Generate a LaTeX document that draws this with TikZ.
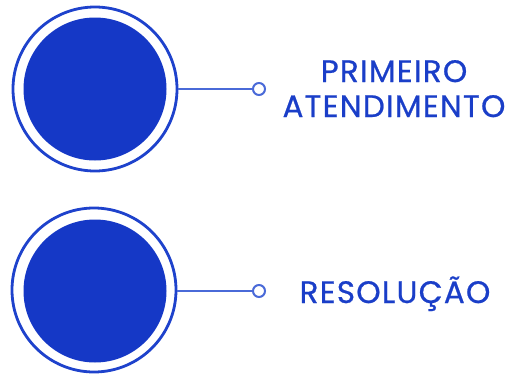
\documentclass[tikz,border=0pt]{standalone}
\usepackage{fontspec}
\setmainfont{Poppins}[FakeBold=0.7, LetterSpace=4]
\definecolor{mainblue}{HTML}{1538C6}
\definecolor{ringblue}{HTML}{1E42CC}
\definecolor{lineblue}{HTML}{4A6AD8}
\definecolor{textblue}{HTML}{1A3EC8}
\tikzset{
  ring/.style={circle, draw=ringblue, line width=2.8pt, fill=white, minimum size=164pt, inner sep=0pt},
  disk/.style={circle, fill=mainblue, minimum size=143pt, inner sep=0pt},
  endpt/.style={circle, draw=lineblue, line width=2pt, fill=white, minimum size=12pt, inner sep=0pt},
  conn/.style={draw=lineblue, line width=1.6pt},
  label/.style={text=textblue, font=\fontsize{31}{35}\selectfont, align=center, inner sep=0pt}
}
\begin{document}
\begin{tikzpicture}[x=1pt,y=-1pt]
\useasboundingbox (0,0) rectangle (512,375);
\node[ring] (r1) at (95,89) {};
\node[disk] (d1) at (95,89) {};
\node[endpt] (e1) at (259,89) {};
\draw[conn] (r1.east) -- (e1.west);
\node[label, anchor=base] (t1) at (394,82) {PRIMEIRO};
\node[label, anchor=base] (t1b) at (394,117) {ATENDIMENTO};

\node[ring] (r2) at (94,290) {};
\node[disk] (d2) at (95,291) {};
\node[endpt] (e2) at (259,291) {};
\draw[conn] (r2.east |- e2.west) -- (e2.west);
\node[label, anchor=base] (t2) at (395,303) {RESOLUÇÃO};
\end{tikzpicture}
\end{document}
